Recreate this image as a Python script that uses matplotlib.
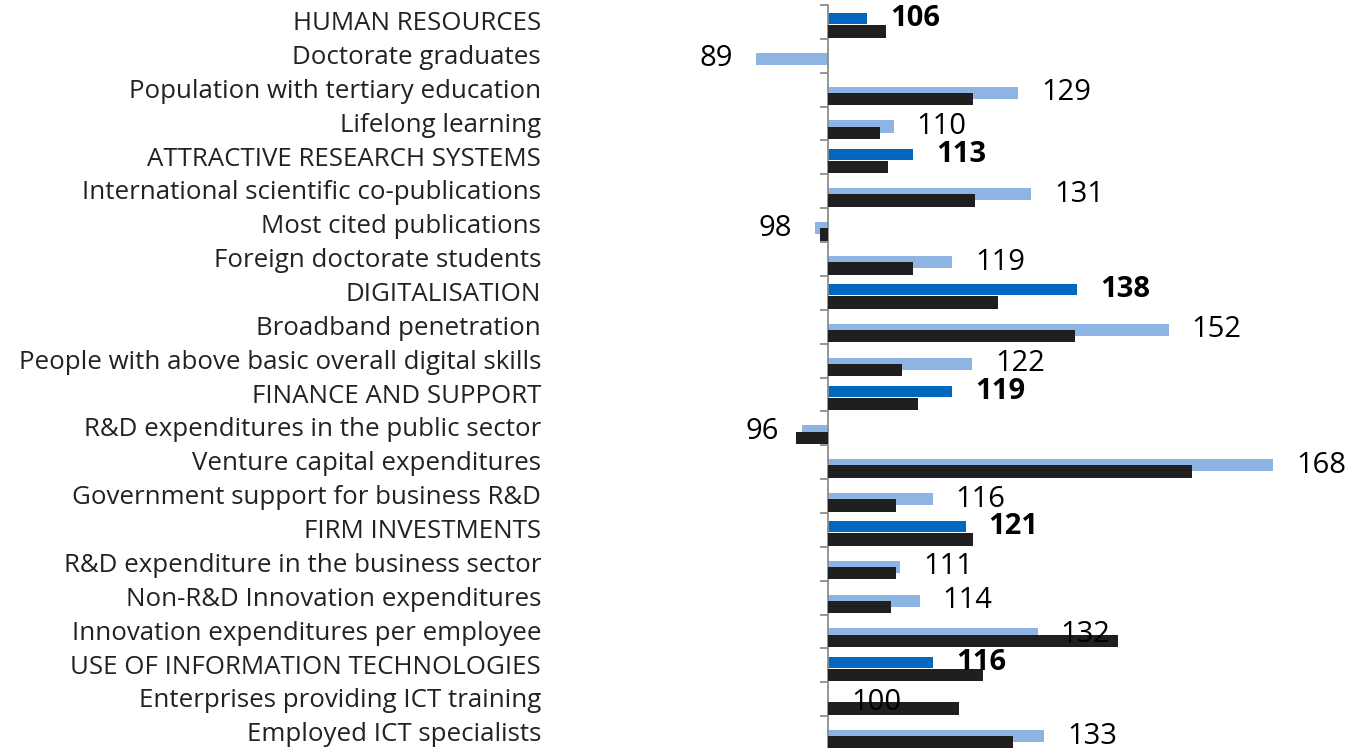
import matplotlib
matplotlib.use("Agg")
import matplotlib.pyplot as plt
from matplotlib import font_manager
import matplotlib.transforms as mtransforms

categories = [
    "HUMAN RESOURCES",
    "Doctorate graduates",
    "Population with tertiary education",
    "Lifelong learning",
    "ATTRACTIVE RESEARCH SYSTEMS",
    "International scientific co-publications",
    "Most cited publications",
    "Foreign doctorate students",
    "DIGITALISATION",
    "Broadband penetration",
    "People with above basic overall digital skills",
    "FINANCE AND SUPPORT",
    "R&D expenditures in the public sector",
    "Venture capital expenditures",
    "Government support for business R&D",
    "FIRM INVESTMENTS",
    "R&D expenditure in the business sector",
    "Non-R&D Innovation expenditures",
    "Innovation expenditures per employee",
    "USE OF INFORMATION TECHNOLOGIES",
    "Enterprises providing ICT training",
    "Employed ICT specialists",
]
is_header = [True, False, False, False, True, False, False, False, True, False, False,
             True, False, False, False, True, False, False, False, True, False, False]
country_values = [106, 89, 129, 110, 113, 131, 98, 119, 138, 152, 122,
                  119, 96, 168, 116, 121, 111, 114, 132, 116, 100, 133]
comparison_values = [108.8, 100, 122.2, 107.9, 109.1, 122.5, 98.8, 113.0, 125.9, 137.7, 111.3,
                     113.7, 95.1, 155.5, 110.4, 122.1, 110.4, 109.6, 144.3, 123.7, 120.0, 128.3]

names = {f.name for f in font_manager.fontManager.ttflist}
fam = "Open Sans" if "Open Sans" in names else "DejaVu Sans"
plt.rcParams['font.family'] = [fam, 'DejaVu Sans']

W, H = 1353, 748
fig = plt.figure(figsize=(W / 100, H / 100), dpi=100)
ppu = 6.55
base = 100
xmin, xmax = 80, 180
left_px = 828 - (base - xmin) * ppu
right_px = 828 + (xmax - base) * ppu
top_px, bot_px = 5, 750
ax = fig.add_axes([left_px / W, (H - bot_px) / H, (right_px - left_px) / W, (bot_px - top_px) / H])
ax.set_xlim(xmin, xmax)
n = len(categories)
ax.set_ylim(n - 0.5, -0.5)

LIGHT = "#8DB4E2"
DARK = "#0068BF"
BLACK = "#1F1F1F"
TXT = "#222222"

for i in range(n):
    v = country_values[i]
    if is_header[i]:
        yc, h, col = i - 0.09, 0.33, DARK
    else:
        yc, h, col = i + 0.09, 0.36, LIGHT
    ax.barh(yc, v - base, left=base, height=h, color=col, zorder=2)
    c = comparison_values[i]
    ax.barh(i + 0.28, c - base, left=base, height=0.37, color=BLACK, zorder=3)
    off = 23 / ppu
    wt = "bold" if is_header[i] else "normal"
    if v >= base:
        ax.text(v + off, yc, f"{v}", ha="left", va="center", fontsize=21,
                fontweight=wt, color="black", zorder=4)
    else:
        ax.text(v - off, yc, f"{v}", ha="right", va="center", fontsize=21,
                fontweight=wt, color="black", zorder=4)

trans = mtransforms.blended_transform_factory(fig.transFigure, ax.transData)
for i, lab in enumerate(categories):
    ax.text(541 / W, i + 0.05, lab, transform=trans, ha="right", va="center",
            fontsize=18.6, color=TXT)

for s in ["top", "right", "bottom"]:
    ax.spines[s].set_visible(False)
ax.spines["left"].set_position(("data", base))
ax.spines["left"].set_color("#8C8C8C")
ax.spines["left"].set_linewidth(1.3)
ax.set_yticks([i - 0.5 for i in range(n + 1)])
ax.set_yticklabels([])
ax.tick_params(axis="y", direction="out", length=6, width=1.3, color="#8C8C8C")
ax.set_xticks([])
ax.patch.set_alpha(0)

fig.savefig("out.png", dpi=100)
